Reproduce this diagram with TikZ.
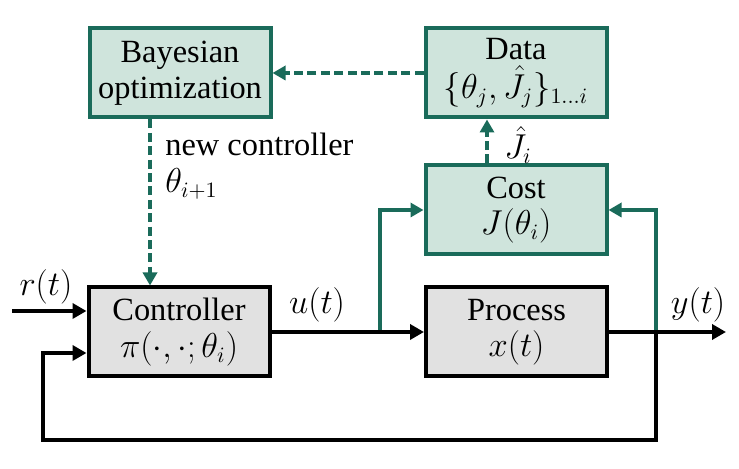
\documentclass[tikz,border=0pt]{standalone}
\usepackage[no-math]{fontspec}
\setmainfont{Liberation Serif}
\usetikzlibrary{arrows.meta}
\definecolor{bogreen}{RGB}{26,107,90}
\definecolor{bofill}{RGB}{207,228,220}
\definecolor{boxgray}{RGB}{225,225,225}
\tikzset{
  txt/.style={font=\fontsize{16.2}{18.2}\selectfont},
  blockbox/.style={txt, draw=black, fill=boxgray, line width=2pt, minimum width=90.5pt, minimum height=44.5pt, align=center, inner sep=0pt},
  greenbox/.style={txt, draw=bogreen, fill=bofill, line width=2pt, minimum width=90.5pt, minimum height=44.5pt, align=center, inner sep=0pt},
  blackline/.style={draw=black, line width=2pt},
  greenline/.style={draw=bogreen, line width=1.8pt},
  greendash/.style={draw=bogreen, line width=1.8pt, dash pattern=on 4.5pt off 2.2pt},
  btip/.style={-{Triangle[length=7pt,width=7.5pt]}},
  gtip/.style={-{Triangle[length=6.5pt,width=7pt]}},
  lbl/.style={txt, inner sep=0pt}
}
\begin{document}
\begin{tikzpicture}[x=0.5pt,y=-0.5pt]
\useasboundingbox (0,0) rectangle (739,469);
% boxes
\node[greenbox] (bo) at (180,73) {Bayesian\\optimization};
\node[greenbox] (data) at (516,73) {Data\\[1.5pt]$\{\theta_j,\hat{J}_j\}_{1\ldots i}$};
\node[greenbox] (cost) at (516,210) {Cost\\$J(\theta_i)$};
\node[blockbox] (ctrl) at (179,332) {Controller\\$\pi(\cdot,\cdot;\theta_i)$};
\node[blockbox] (proc) at (516.5,332) {Process\\$x(t)$};
% coordinates
\coordinate (rin) at (12,311);
\coordinate (uj) at (380,332);
\coordinate (yj) at (656,332);
\coordinate (yout) at (726,332);
\coordinate (fbl) at (43,440);
% labels
\node[lbl] (rl) at (46,287) {$r(t)$};
\node[lbl] (ul) at (317,305) {$u(t)$};
\node[lbl] (yl) at (698,305) {$y(t)$};
\node[lbl, anchor=north west, align=left] (ncl) at (165,133) {new controller\\$\theta_{i+1}$};
\node[lbl] (jl) at (518,145) {$\hat{J}_i$};
% dashed connectors
\draw[greendash, gtip] (data.west) -- (bo.east);
\draw[greendash, gtip] (bo.south -| 150,0) -- (ctrl.north -| 150,0);
\draw[greendash, gtip] (cost.north -| 487,0) -- (data.south -| 487,0);
% green branches
\draw[greenline, gtip] (uj) |- (cost.west);
\draw[greenline, gtip] (yj) |- (cost.east);
% black connectors
\draw[blackline, btip] (rin) -- (rin -| ctrl.west);
\draw[blackline, btip] (ctrl.east |- uj) -- (proc.west |- uj);
\draw[blackline, btip] (proc.east |- yj) -- (yout);
\draw[blackline, btip] (yj) |- (fbl) |- ([yshift=-10.5pt]ctrl.west);
\end{tikzpicture}
\end{document}
